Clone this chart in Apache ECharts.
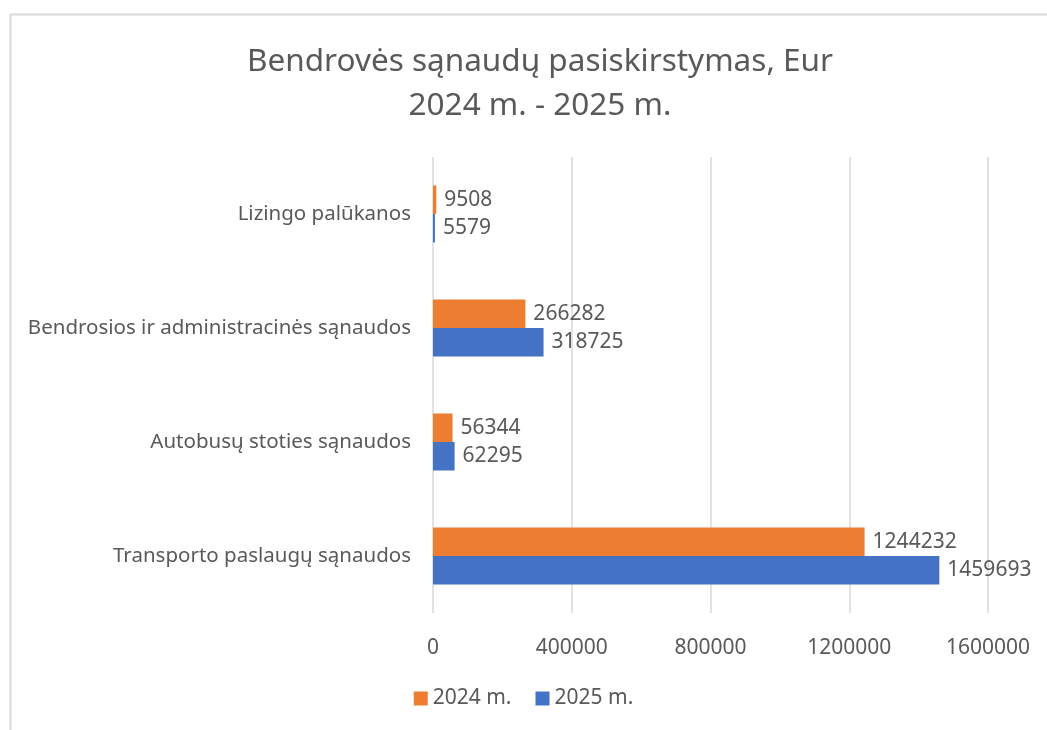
<!DOCTYPE html>
<html>
<head>
<meta charset="utf-8">
<script src="https://cdn.jsdelivr.net/npm/echarts@6/dist/echarts.min.js"></script>
<style>
html,body{margin:0;padding:0;background:#fff;}
#c{width:1047px;height:730px;}
</style>
</head>
<body>
<div id="c"></div>
<script>
const categories = ['Transporto paslaugų sąnaudos', 'Autobusų stoties sąnaudos', 'Bendrosios ir administracinės sąnaudos', 'Lizingo palūkanos'];
const values2024 = [1244232, 56344, 266282, 9508];
const values2025 = [1459693, 62295, 318725, 5579];
const seriesNames = ['2024 m.', '2025 m.'];
const xTicks = { min: 0, max: 1600000, interval: 400000 };

const font = 'Noto Sans';
const txt = '#595959';
const chart = echarts.init(document.getElementById('c'));
chart.setOption({
  animation: false,
  textStyle: { fontFamily: font },
  graphic: [{
    type: 'rect', left: 8, top: 12,
    shape: { width: 1100, height: 800 },
    style: { fill: 'none', stroke: '#d9d9d9', lineWidth: 2 }
  }],
  title: {
    text: 'Bendrovės sąnaudų pasiskirstymas, Eur\n2024 m. - 2025 m.',
    left: 535, textAlign: 'center', top: 35,
    textStyle: { fontFamily: font, fontSize: 31.5, fontWeight: 'normal', color: txt, lineHeight: 44 }
  },
  legend: {
    data: seriesNames, bottom: 16, left: 'center',
    itemWidth: 14, itemHeight: 14, itemGap: 24,
    icon: 'rect',
    textStyle: { fontFamily: font, fontSize: 21, color: txt }
  },
  grid: { left: 433, right: 59, top: 157, bottom: 117 },
  xAxis: {
    type: 'value', min: xTicks.min, max: xTicks.max, interval: xTicks.interval,
    axisLine: { show: false }, axisTick: { show: false },
    splitLine: { lineStyle: { color: '#d9d9d9', width: 1.5 } },
    axisLabel: { fontFamily: font, fontSize: 21, color: txt, margin: 25, formatter: v => String(v) }
  },
  yAxis: {
    type: 'category', data: categories,
    axisLine: { show: false }, axisTick: { show: false },
    axisLabel: { fontFamily: font, fontSize: 20.5, color: txt, margin: 22 }
  },
  series: [
    {
      name: seriesNames[0], type: 'bar', data: values2024,
      itemStyle: { color: '#ED7D31' }, barGap: '0%', barCategoryGap: '50%',
      label: { show: true, position: 'right', distance: 8, fontFamily: font, fontSize: 21, color: txt }
    },
    {
      name: seriesNames[1], type: 'bar', data: values2025,
      itemStyle: { color: '#4472C4' }, barGap: '0%', barCategoryGap: '50%',
      label: { show: true, position: 'right', distance: 8, fontFamily: font, fontSize: 21, color: txt }
    }
  ]
});
</script>
</body>
</html>
